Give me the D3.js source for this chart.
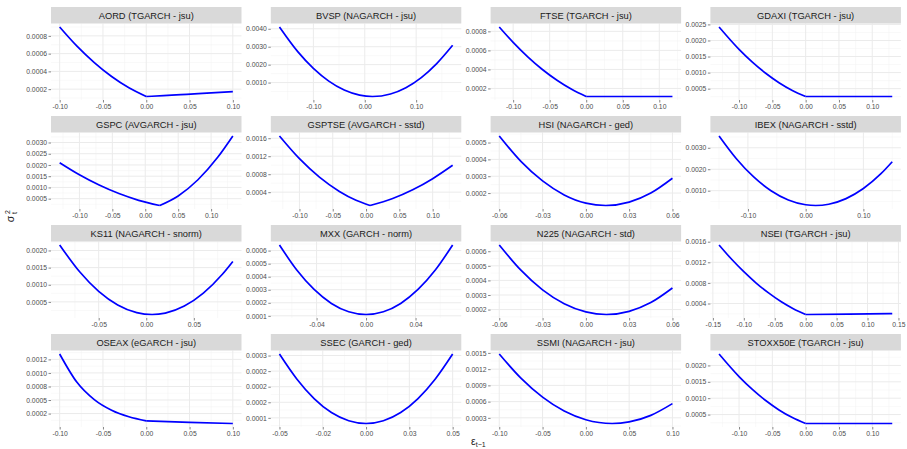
<!DOCTYPE html>
<html><head><meta charset="utf-8">
<script src="https://cdn.jsdelivr.net/npm/d3@7"></script>
<style>body{margin:0;background:#fff}svg{display:block}</style>
</head><body><svg id="c" width="907" height="449"></svg>
<script>
// ---------- DATA ----------
const titles = ["AORD (TGARCH - jsu)","BVSP (NAGARCH - jsu)","FTSE (TGARCH - jsu)","GDAXI (TGARCH - jsu)",
  "GSPC (AVGARCH - jsu)","GSPTSE (AVGARCH - sstd)","HSI (NAGARCH - ged)","IBEX (NAGARCH - sstd)",
  "KS11 (NAGARCH - snorm)","MXX (GARCH - norm)","N225 (NAGARCH - std)","NSEI (TGARCH - jsu)",
  "OSEAX (eGARCH - jsu)","SSEC (GARCH - ged)","SSMI (NAGARCH - jsu)","STOXX50E (TGARCH - jsu)"];

const epsAORD = [-0.10,-0.08,-0.06,-0.04,-0.02,0,0.02,0.04,0.06,0.08,0.10];
const sigAORD = [0.000900,0.000684,0.000499,0.000342,0.000215,0.000117,0.000127,0.000138,0.000149,0.000161,0.000173];
const epsBVSP = [-0.166,-0.13,-0.10,-0.07,-0.04,-0.01,0.015,0.05,0.08,0.11,0.14,0.171];
const sigBVSP = [0.00410,0.00271,0.00179,0.00108,0.000583,0.000298,0.000222,0.000364,0.000716,0.00128,0.00206,0.00308];
const epsFTSE = [-0.119,-0.10,-0.08,-0.06,-0.04,-0.02,0,0.06,0.118];
const sigFTSE = [0.000846,0.000684,0.000532,0.000399,0.000286,0.000191,0.000115,0.000115,0.000115];
const epsGDAXI = [-0.13,-0.10,-0.08,-0.06,-0.04,-0.02,0,0.065,0.13];
const sigGDAXI = [0.00242,0.001724,0.001326,0.00098,0.000686,0.000444,0.000255,0.000255,0.000255];
const epsGSPC = [-0.13,-0.10,-0.07,-0.04,-0.01,0.022,0.05,0.08,0.11,0.133];
const sigGSPC = [0.0021,0.001564,0.001106,0.000727,0.000427,0.000195,0.00062,0.001342,0.00234,0.00329];
const epsGSPTSE = [-0.13,-0.10,-0.07,-0.04,-0.015,0.006,0.04,0.07,0.10,0.13];
const sigGSPTSE = [0.00165,0.001145,0.000736,0.000417,0.00022,0.000103,0.000258,0.000452,0.0007,0.000998];
const epsHSI = [-0.06,-0.045,-0.03,-0.015,0,0.0138,0.03,0.045,0.06];
const sigHSI = [0.000539,0.000388,0.000272,0.000189,0.00014,0.000126,0.000146,0.0002,0.000288];
const epsIBEX = [-0.15,-0.12,-0.09,-0.06,-0.03,0,0.0173,0.04,0.07,0.10,0.13,0.15];
const sigIBEX = [0.00355,0.00249,0.00164,0.001,0.000567,0.000343,0.000308,0.000368,0.00063,0.0011,0.00178,0.00235];
const epsKS11 = [-0.091,-0.07,-0.05,-0.03,-0.01,0.0061,0.02,0.04,0.06,0.08,0.091];
const sigKS11 = [0.00216,0.001377,0.000808,0.000411,0.000187,0.000131,0.000173,0.000378,0.000756,0.001306,0.00168];
const epsMXX = [-0.07,-0.056,-0.042,-0.028,-0.014,0,0.014,0.028,0.042,0.056,0.07];
const sigMXX = [0.000643,0.000451,0.000302,0.000195,0.000131,0.00011,0.000131,0.000195,0.000302,0.000451,0.000643];
const epsN225 = [-0.06,-0.045,-0.03,-0.015,0,0.0142,0.03,0.045,0.06];
const sigN225 = [0.000643,0.00047,0.000335,0.00024,0.000184,0.000166,0.000188,0.000248,0.000348];
const epsNSEI = [-0.14,-0.12,-0.10,-0.08,-0.06,-0.04,-0.02,0,0.07,0.14];
const sigNSEI = [0.001536,0.001263,0.001017,0.000797,0.000605,0.000438,0.000299,0.000186,0.000195,0.000205];
const epsOSEAX = [-0.10,-0.08,-0.06,-0.04,-0.02,0,0.05,0.10];
const sigOSEAX = [0.00135,0.000826,0.000506,0.00031,0.00019,0.000116,0.0000875,0.000066];
const epsSSEC = [-0.05,-0.04,-0.03,-0.02,-0.01,0,0.01,0.02,0.03,0.04,0.05];
const sigSSEC = [0.000305,0.000225,0.000162,0.000117,0.0000907,0.0000818,0.0000907,0.000117,0.000162,0.000225,0.000305];
const epsSSMI = [-0.10,-0.075,-0.05,-0.025,0,0.0303,0.05,0.075,0.10];
const sigSSMI = [0.00148,0.001034,0.000683,0.000426,0.000265,0.000195,0.000224,0.000346,0.000563];
const epsSTOXX = [-0.13,-0.10,-0.08,-0.06,-0.04,-0.02,0,0.065,0.13];
const sigSTOXX = [0.00235,0.001661,0.001268,0.000928,0.000641,0.000407,0.000226,0.000226,0.000226];

// x position where the news-impact curve has a kink (null = smooth)
const kinks = [0,null,0,0, 0.022,0.006,null,null, null,null,null,0, 0,null,null,0];

const xTickVals = [
  [-0.10,-0.05,0,0.05,0.10],[-0.10,0,0.10],[-0.10,-0.05,0,0.05,0.10],[-0.10,-0.05,0,0.05,0.10],
  [-0.10,-0.05,0,0.05,0.10],[-0.10,-0.05,0,0.05,0.10],[-0.06,-0.03,0,0.03,0.06],[-0.10,0,0.10],
  [-0.05,0,0.05],[-0.04,0,0.04],[-0.06,-0.03,0,0.03,0.06],[-0.15,-0.10,-0.05,0,0.05,0.10,0.15],
  [-0.10,-0.05,0,0.05,0.10],[-0.05,-0.025,0,0.025,0.05],[-0.10,-0.05,0,0.05,0.10],[-0.10,-0.05,0,0.05,0.10]];
const xTickLabels = [
  ["-0.10","-0.05","0.00","0.05","0.10"],["-0.10","0.00","0.10"],["-0.10","-0.05","0.00","0.05","0.10"],["-0.10","-0.05","0.00","0.05","0.10"],
  ["-0.10","-0.05","0.00","0.05","0.10"],["-0.10","-0.05","0.00","0.05","0.10"],["-0.06","-0.03","0.00","0.03","0.06"],["-0.10","0.00","0.10"],
  ["-0.05","0.00","0.05"],["-0.04","0.00","0.04"],["-0.06","-0.03","0.00","0.03","0.06"],["-0.15","-0.10","-0.05","0.00","0.05","0.10","0.15"],
  ["-0.10","-0.05","0.00","0.05","0.10"],["-0.05","-0.02","0.00","0.03","0.05"],["-0.10","-0.05","0.00","0.05","0.10"],["-0.10","-0.05","0.00","0.05","0.10"]];

const yTickVals = [
  [0.0002,0.0004,0.0006,0.0008],[0.0010,0.0020,0.0030,0.0040],[0.0002,0.0004,0.0006,0.0008],[0.0005,0.0010,0.0015,0.0020,0.0025],
  [0.0005,0.0010,0.0015,0.0020,0.0025,0.0030],[0.0004,0.0008,0.0012,0.0016],[0.0002,0.0003,0.0004,0.0005],[0.0010,0.0020,0.0030],
  [0.0005,0.0010,0.0015,0.0020],[0.0001,0.0002,0.0003,0.0004,0.0005,0.0006],[0.0002,0.0003,0.0004,0.0005,0.0006],[0.0004,0.0008,0.0012,0.0016],
  [0.00025,0.0005,0.00075,0.0010,0.00125],[0.0001,0.00015,0.0002,0.00025,0.0003],[0.0003,0.0006,0.0009,0.0012,0.0015],[0.0005,0.0010,0.0015,0.0020]];
const yTickLabels = [
  ["0.0002","0.0004","0.0006","0.0008"],["0.0010","0.0020","0.0030","0.0040"],["0.0002","0.0004","0.0006","0.0008"],["0.0005","0.0010","0.0015","0.0020","0.0025"],
  ["0.0005","0.0010","0.0015","0.0020","0.0025","0.0030"],["0.0004","0.0008","0.0012","0.0016"],["0.0002","0.0003","0.0004","0.0005"],["0.0010","0.0020","0.0030"],
  ["0.0005","0.0010","0.0015","0.0020"],["0.0001","0.0002","0.0003","0.0004","0.0005","0.0006"],["0.0002","0.0003","0.0004","0.0005","0.0006"],["0.0004","0.0008","0.0012","0.0016"],
  ["0.0002","0.0005","0.0008","0.0010","0.0012"],["0.0001","0.0002","0.0002","0.0002","0.0003"],["0.0003","0.0006","0.0009","0.0012","0.0015"],["0.0005","0.0010","0.0015","0.0020"]];

const series = [[epsAORD,sigAORD],[epsBVSP,sigBVSP],[epsFTSE,sigFTSE],[epsGDAXI,sigGDAXI],
  [epsGSPC,sigGSPC],[epsGSPTSE,sigGSPTSE],[epsHSI,sigHSI],[epsIBEX,sigIBEX],
  [epsKS11,sigKS11],[epsMXX,sigMXX],[epsN225,sigN225],[epsNSEI,sigNSEI],
  [epsOSEAX,sigOSEAX],[epsSSEC,sigSSEC],[epsSSMI,sigSSMI],[epsSTOXX,sigSTOXX]];

// ---------- LAYOUT ----------
const FONT = "'Liberation Sans', Arial, Helvetica, sans-serif";
const colX0 = 51, colStep = 219.8, panelW = 190.5;
const rowY0 = 7, rowStep = 109, stripH = 16.5, panelH = 76.5;

const svg = d3.select("#c");
svg.append("rect").attr("width",907).attr("height",449).attr("fill","#fff");

function minors(vals, dom) {
  const step = vals[1]-vals[0], out = [];
  for (let k = -1; k < vals.length; k++) {
    const m = vals[0] + (k+0.5)*step;
    if (m >= dom[0] && m <= dom[1]) out.push(m);
  }
  return out;
}

titles.forEach((title, i) => {
  const col = i % 4, row = Math.floor(i / 4);
  const px = colX0 + col*colStep, sy = rowY0 + row*rowStep, py = sy + stripH;
  const [ex, sg] = series[i];
  const xe = d3.extent(ex), ye = d3.extent(sg);
  const xs = xe[1]-xe[0], ys = ye[1]-ye[0];
  const xd = [xe[0]-0.05*xs, xe[1]+0.05*xs], yd = [ye[0]-0.05*ys, ye[1]+0.05*ys];
  const x = d3.scaleLinear().domain(xd).range([px, px+panelW]);
  const y = d3.scaleLinear().domain(yd).range([py+panelH, py]);
  const g = svg.append("g");

  const xv = xTickVals[i].filter(v => v >= xd[0] && v <= xd[1]);
  const yv = yTickVals[i].filter(v => v >= yd[0] && v <= yd[1]);

  // minor grid
  g.selectAll(".mx").data(minors(xTickVals[i], xd)).enter().append("line")
    .attr("x1", d => x(d)).attr("x2", d => x(d)).attr("y1", py).attr("y2", py+panelH)
    .attr("stroke", "#F2F2F2").attr("stroke-width", 0.5);
  g.selectAll(".my").data(minors(yTickVals[i], yd)).enter().append("line")
    .attr("y1", d => y(d)).attr("y2", d => y(d)).attr("x1", px).attr("x2", px+panelW)
    .attr("stroke", "#F2F2F2").attr("stroke-width", 0.5);
  // major grid
  g.selectAll(".gx").data(xv).enter().append("line")
    .attr("x1", d => x(d)).attr("x2", d => x(d)).attr("y1", py).attr("y2", py+panelH)
    .attr("stroke", "#EBEBEB").attr("stroke-width", 1);
  g.selectAll(".gy").data(yv).enter().append("line")
    .attr("y1", d => y(d)).attr("y2", d => y(d)).attr("x1", px).attr("x2", px+panelW)
    .attr("stroke", "#EBEBEB").attr("stroke-width", 1);

  // strip
  g.append("rect").attr("x", px).attr("y", sy).attr("width", panelW).attr("height", stripH).attr("fill", "#D9D9D9");
  g.append("text").attr("x", px+panelW/2).attr("y", sy+stripH/2).attr("dy", "0.36em")
    .attr("text-anchor", "middle").attr("font-family", FONT).attr("font-size", 9.3)
    .attr("fill", "#1A1A1A").text(title);

  // curve (split at kink)
  const pts = ex.map((e, k) => [e, sg[k]]);
  const segs = kinks[i] === null ? [pts]
    : [pts.filter(p => p[0] <= kinks[i]), pts.filter(p => p[0] >= kinks[i])];
  const line = d3.line().x(d => x(d[0])).y(d => y(d[1])).curve(d3.curveMonotoneX);
  segs.forEach(s => {
    g.append("path").attr("d", line(s)).attr("fill", "none")
      .attr("stroke", "#0000FF").attr("stroke-width", 1.7)
      .attr("stroke-linejoin", "round").attr("stroke-linecap", "butt");
  });

  // axes
  const xl = xTickLabels[i], yl = yTickLabels[i];
  const ya = d3.axisLeft(y).tickValues(yv)
    .tickFormat(d => yl[yTickVals[i].indexOf(d)]).tickSize(2.5).tickPadding(1.5);
  const xa = d3.axisBottom(x).tickValues(xv)
    .tickFormat(d => xl[xTickVals[i].indexOf(d)]).tickSize(2.5).tickPadding(1.8);
  const ga = g.append("g").attr("transform", `translate(${px},0)`).call(ya);
  const gb = g.append("g").attr("transform", `translate(0,${py+panelH})`).call(xa);
  [ga, gb].forEach(a => {
    a.select(".domain").remove();
    a.selectAll(".tick line").attr("stroke", "#333333").attr("stroke-width", 0.6);
    a.selectAll(".tick text").attr("font-family", FONT).attr("font-size", 6.8).attr("fill", "#4D4D4D");
  });
});

// axis titles
const yt = svg.append("g").attr("transform", "translate(14,217) rotate(-90)")
  .attr("font-family", FONT).attr("fill", "#1A1A1A");
yt.append("text").attr("x", -2).attr("y", 0).attr("text-anchor", "middle").attr("font-size", 10.5).text("σ");
yt.append("text").attr("x", 3).attr("y", -4.5).attr("font-size", 7).text("2");
yt.append("text").attr("x", 3).attr("y", 3).attr("font-size", 7).text("t");

const xt = svg.append("text").attr("x", 471).attr("y", 444.5)
  .attr("font-family", FONT).attr("fill", "#1A1A1A").attr("font-size", 10.5);
xt.append("tspan").text("ε");
xt.append("tspan").attr("dy", 2.5).attr("font-size", 7).text("t−1");
</script></body></html>
